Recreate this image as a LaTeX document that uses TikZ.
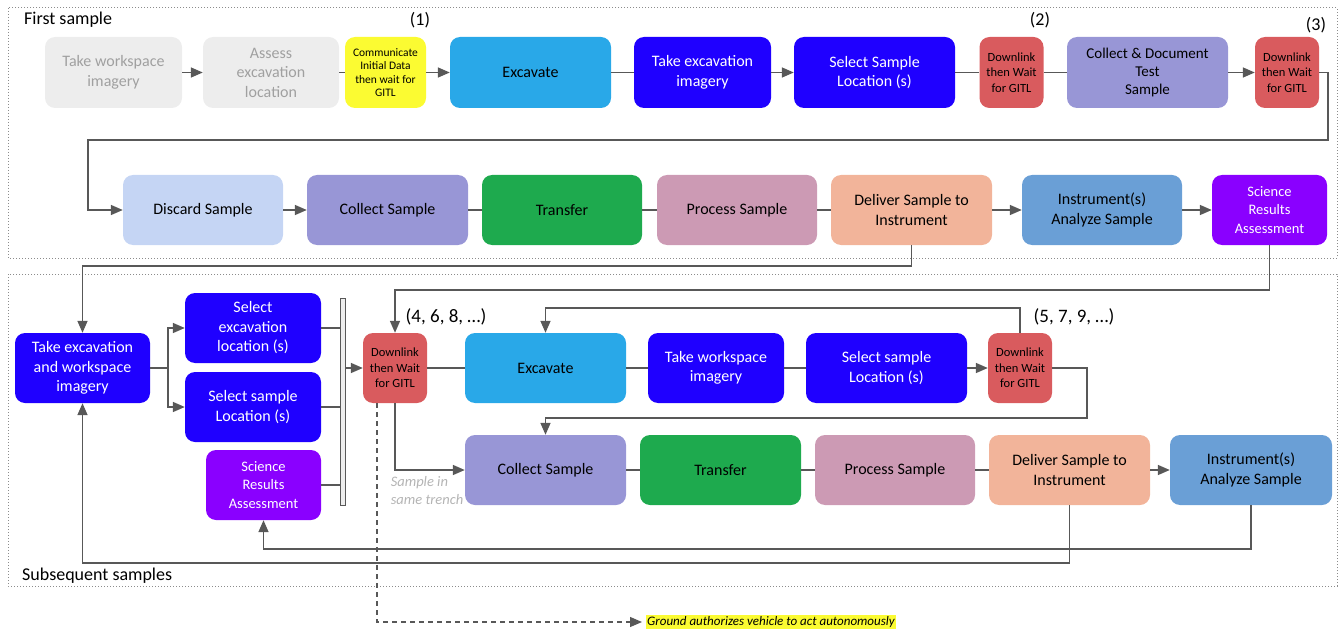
\documentclass[tikz,border=0pt]{standalone}
\usepackage{fontspec}
\setmainfont{Carlito}
\usetikzlibrary{arrows.meta}
\definecolor{cGray}{HTML}{EDEDED}
\definecolor{cGrayTxt}{HTML}{A0A0A0}
\definecolor{cYellow}{HTML}{FBFB32}
\definecolor{cSky}{HTML}{29A8E8}
\definecolor{cBlue}{HTML}{1F00FF}
\definecolor{cRed}{HTML}{D95B5E}
\definecolor{cLav}{HTML}{9896D6}
\definecolor{cPale}{HTML}{C5D5F4}
\definecolor{cGreen}{HTML}{1EAA4E}
\definecolor{cPink}{HTML}{CC9AB4}
\definecolor{cPeach}{HTML}{F2B49A}
\definecolor{cSteel}{HTML}{6A9FD6}
\definecolor{cPurple}{HTML}{8A00FF}
\definecolor{cLine}{HTML}{585858}
\definecolor{cFrame}{HTML}{8C8C8C}
\definecolor{cNote}{HTML}{B4B4B4}
\begin{document}
\begin{tikzpicture}[x=1pt,y=-1pt,
  box/.style={rounded corners=10pt, align=center, inner sep=2pt,
    font=\fontsize{16}{19.5}\selectfont},
  sz/.style 2 args={minimum width=#1pt, minimum height=#2pt},
  small/.style={font=\fontsize{12.5}{15.5}\selectfont},
  sci/.style={font=\fontsize{14.5}{18.5}\selectfont, fill=cPurple, text=white},
  wait/.style={box, small, fill=cRed, sz={64}{71}},
  link/.style={draw=cLine, line width=1.6pt},
  arr/.style={link, -{Triangle[length=12pt,width=10pt]}},
  frame/.style={draw=cFrame, line width=1pt, dash pattern=on 1pt off 2pt},
  lbl/.style={font=\fontsize{18}{20}\selectfont, inner sep=0pt}
]
\useasboundingbox (0,0) rectangle (1343,631);

% section frames
\draw[frame] (8,8) rectangle (1337,258);
\draw[frame] (8,274) rectangle (1337,586);
\node[lbl, anchor=west] (tFirst) at (24,20) {First sample};
\node[lbl, anchor=west] (tNext) at (22,576) {Subsequent samples};

% ---- first sample, row 1
\node[box, fill=cGray, text=cGrayTxt, sz={137}{71}] (ws) at (113.5,72.5) {Take workspace\\imagery};
\node[box, fill=cGray, text=cGrayTxt, sz={136}{71}] (assess) at (271,72.5) {Assess\\excavation\\location};
\node[box, fill=cYellow, sz={81}{71}, font=\fontsize{11.5}{13.5}\selectfont] (comm) at (385.5,72.5) {Communicate\\Initial Data\\then wait for\\GITL};
\node[box, fill=cSky, sz={161}{71}] (exc1) at (530.5,72.5) {Excavate};
\node[box, fill=cBlue, text=white, sz={137}{71}] (tei) at (702.5,72.5) {Take excavation\\imagery};
\node[box, fill=cBlue, text=white, sz={161}{71}] (ssl1) at (874.5,72.5) {Select Sample\\Location (s)};
\node[wait] (dl2) at (1011.5,72.5) {Downlink\\then Wait\\for GITL};
\node[box, fill=cLav, sz={161}{71}, font=\fontsize{15}{18}\selectfont] (cdt) at (1147.5,72.5) {Collect \& Document\\Test\\Sample};
\node[wait] (dl3) at (1287,72.5) {Downlink\\then Wait\\for GITL};

\node[lbl] (n1) at (420,20) {(1)};
\node[lbl] (n2) at (1040,20) {(2)};
\node[lbl] (n3) at (1316,25) {(3)};

% ---- first sample, row 2
\node[box, fill=cPale, sz={160}{70}] (discard) at (203,210) {Discard Sample};
\node[box, fill=cLav, sz={161}{70}] (coll1) at (387.5,210) {Collect Sample};
\node[box, fill=cGreen, sz={160}{70}] (trans1) at (562,210) {Transfer};
\node[box, fill=cPink, sz={160}{70}] (proc1) at (737,210) {Process Sample};
\node[box, fill=cPeach, sz={161}{70}] (deliv1) at (911.5,210) {Deliver Sample to\\Instrument};
\node[box, fill=cSteel, sz={160}{70}] (instr1) at (1102,210) {Instrument(s)\\Analyze Sample};
\node[box, sci, sz={115}{70}] (sci1) at (1269.5,210) {Science\\Results\\Assessment};

% ---- subsequent samples
\node[box, fill=cBlue, text=white, sz={135}{70}] (tewi) at (82.5,368) {Take excavation\\and workspace\\imagery};
\node[box, fill=cBlue, text=white, sz={136}{70}] (selex) at (253,328) {Select\\excavation\\location (s)};
\node[box, fill=cBlue, text=white, sz={136}{70}] (selsa) at (253,407) {Select sample\\Location (s)};
\node[box, sci, sz={115}{70}] (sci2) at (263.5,485) {Science\\Results\\Assessment};
\node[draw=cLine, line width=1pt, fill=cGray, inner sep=0pt, sz={5}{207}] (bar) at (342.5,401.5) {};

\node[wait, sz={64}{70}] (dl4) at (395,368) {Downlink\\then Wait\\for GITL};
\node[box, fill=cSky, sz={161}{70}] (exc2) at (545.5,368) {Excavate};
\node[box, fill=cBlue, text=white, sz={136}{70}] (twi) at (716,368) {Take workspace\\imagery};
\node[box, fill=cBlue, text=white, sz={161}{70}] (ssl2) at (886.5,368) {Select sample\\Location (s)};
\node[wait, sz={64}{70}] (dl5) at (1020,368) {Downlink\\then Wait\\for GITL};

\node[box, fill=cLav, sz={161}{70}] (coll2) at (545.5,470) {Collect Sample};
\node[box, fill=cGreen, sz={161}{70}] (trans2) at (720.5,470) {Transfer};
\node[box, fill=cPink, sz={160}{70}] (proc2) at (895,470) {Process Sample};
\node[box, fill=cPeach, sz={161}{70}] (deliv2) at (1069.5,470) {Deliver Sample to\\Instrument};
\node[box, fill=cSteel, sz={162}{70}] (instr2) at (1251,470) {Instrument(s)\\Analyze Sample};

\node[lbl, font=\fontsize{19}{21}\selectfont] (n4) at (446,317) {(4, 6, 8, \dots)};
\node[lbl, font=\fontsize{19}{21}\selectfont] (n5) at (1074,317) {(5, 7, 9, \dots)};
\node[align=left, text=cNote, inner sep=0pt, font=\fontsize{14.5}{18}\selectfont\itshape] (trench) at (427,491) {Sample in\\same trench};
\node[fill=cYellow, inner sep=1pt, font=\fontsize{13}{15}\selectfont\itshape, anchor=west] (ground) at (646,622) {Ground authorizes vehicle to act autonomously};

% ---- connectors, row 1
\draw[arr] (ws) -- (assess);
\draw[link] (assess) -- (comm);
\draw[arr] (comm) -- (exc1);
\draw[link] (exc1) -- (tei);
\draw[arr] (tei) -- (ssl1);
\draw[link] (ssl1) -- (dl2);
\draw[link] (dl2) -- (cdt);
\draw[arr] (cdt) -- (dl3);
\draw[arr] (dl3.east) -- (1328,72.5) -- (1328,140) -- (88,140) |- (discard.west);

% ---- connectors, row 2
\draw[arr] (discard) -- (coll1);
\draw[link] (coll1) -- (trans1);
\draw[link] (trans1) -- (proc1);
\draw[link] (proc1) -- (deliv1);
\draw[arr] (deliv1) -- (instr1);
\draw[arr] (instr1) -- (sci1);
\draw[arr] (deliv1.south) -- (911.5,266) -| (tewi.north);
\draw[arr] (sci1.south) -- (1269.5,290) -| (dl4.north);

% ---- connectors, subsequent samples
\coordinate (fork) at (168,368);
\draw[link] (tewi.east) -- (fork);
\draw[arr] (fork) |- (selex.west);
\draw[arr] (fork) |- (selsa.west);
\draw[link] (selex.east) -- (selex.east -| bar.west);
\draw[link] (selsa.east) -- (selsa.east -| bar.west);
\draw[link] (sci2.east) -- (sci2.east -| bar.west);
\draw[arr] (bar.east |- dl4.west) -- (dl4.west);
\draw[link] (dl4) -- (exc2);
\draw[link] (exc2) -- (twi);
\draw[link] (twi) -- (ssl2);
\draw[arr] (ssl2) -- (dl5);
\draw[arr] (dl5.north) -- (1020,308) -| (exc2.north);
\draw[arr] (dl5.east) -- (1087,368) -- (1087,418) -| (coll2.north);
\draw[arr] (dl4.south) |- (coll2.west);
\draw[link] (coll2) -- (trans2);
\draw[link] (trans2) -- (proc2);
\draw[link] (proc2) -- (deliv2);
\draw[arr] (deliv2) -- (instr2);
\draw[arr] (deliv2.south) -- (1069.5,563) -| (tewi.south);
\draw[arr] (instr2.south) -- (1251,549) -| (sci2.south);
\draw[arr, line width=1.2pt, dash pattern=on 5pt off 4pt] ([xshift=-18pt]dl4.south) |- ([xshift=-4pt]ground.west);
\end{tikzpicture}
\end{document}
